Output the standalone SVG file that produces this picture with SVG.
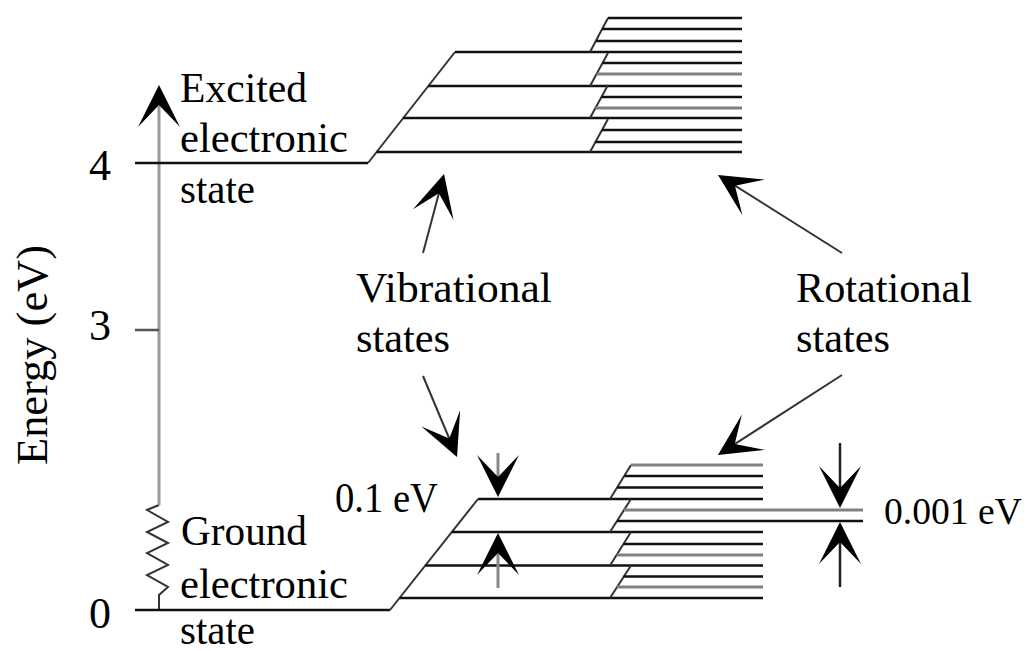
<svg xmlns="http://www.w3.org/2000/svg" width="1034" height="651" viewBox="0 0 1034 651">
  <style>
    .lvl { fill: none; stroke: #111; stroke-width: 2.5; }
    .lvl-g { fill: none; stroke: #808080; stroke-width: 3; }
    .slant { fill: none; stroke: #333; stroke-width: 2; }
    .axis { fill: none; stroke: #999; stroke-width: 3; }
    .tick { fill: none; stroke: #555; stroke-width: 2.5; }
    .ptr { fill: none; stroke: #333; stroke-width: 2; marker-end: url(#head); }
    .gap { fill: none; stroke: #888; stroke-width: 3; marker-end: url(#head); }
    .gap-d { fill: none; stroke: #222; stroke-width: 2.5; marker-end: url(#head); }
    text { font-family: "Liberation Serif", "Times New Roman", serif; font-size: 42px; fill: #000; }
    .num { text-anchor: middle; font-size: 44px; }
    .big { font-size: 44px; }
    .edge { font-size: 38px; }
  </style>
  <defs>
    <marker id="head" viewBox="-44 -23 46 46" markerWidth="46" markerHeight="46" refX="-6" refY="0" orient="auto" markerUnits="userSpaceOnUse">
      <path d="M0,0 L-42,-21 L-20,0 L-42,21 Z" fill="#000"/>
    </marker>
  </defs>

  <rect width="1034" height="651" fill="#fff"/>

  <!-- energy axis with zigzag break -->
  <g id="axis">
    <polyline class="slant" points="159,505 147,510 168,522 147,532 168,543 147,553 168,565 147,575 168,587 159,595 159,610"/>
    <line class="axis" x1="159" y1="505" x2="159" y2="91" marker-end="url(#head)"/>
    <line class="tick" x1="135" y1="330" x2="159" y2="330"/>
    <text class="num" x="100" y="180">4</text>
    <text class="num" x="100" y="340">3</text>
    <text class="num" x="100" y="628">0</text>
    <text class="big" transform="translate(47,465) rotate(-90)" textLength="220" lengthAdjust="spacingAndGlyphs">Energy (eV)</text>
  </g>

  <!-- excited electronic state: vibrational ladder with rotational sub-levels -->
  <g id="excited-state">
    <path class="lvl" d="M135,163 H368"/>
    <path class="slant" d="M368,163 L455,52"/>
    <path class="lvl" d="M376.6,152 H742 M403,118 H742 M428,86 H742 M455,52 H742"/>
    <path class="slant" d="M590,152 L608,119 M590,118 L608,85 M590,86 L608,53 M590,52 L608,18"/>
    <path class="lvl" d="M595.5,142 H742 M602,130 H742 M601.5,97 H742 M602.5,63 H742 M596,41 H742 M602.5,29 H742 M608,18 H742"/>
    <path class="lvl-g" d="M595.5,108 H742 M596.5,74 H742"/>
  </g>

  <!-- ground electronic state: vibrational ladder with rotational sub-levels -->
  <g id="ground-state">
    <path class="lvl" d="M135,610 H390"/>
    <path class="slant" d="M390,610 L478,499"/>
    <path class="lvl" d="M399.5,598 H763 M425.3,565.5 H763 M451.9,532 H763 M478,499 H763"/>
    <path class="slant" d="M610,598 L631,565.5 M610,565.5 L631,532 M610,532 L631,499 M610,499 L631,465"/>
    <path class="lvl" d="M623.5,576.5 H763 M623.7,544 H763 M617,521 H863 M617.3,487.5 H763 M624.6,476 H763"/>
    <path class="lvl-g" d="M617,587 H763 M616.7,555 H763 M624,510 H863 M631,465 H763"/>
  </g>

  <!-- labels -->
  <g id="label-excited">
    <text x="180" y="102" textLength="127" lengthAdjust="spacingAndGlyphs">Excited</text>
    <text x="180" y="152" textLength="168" lengthAdjust="spacingAndGlyphs">electronic</text>
    <text x="180" y="203" textLength="75" lengthAdjust="spacingAndGlyphs">state</text>
  </g>
  <g id="label-ground">
    <text x="181" y="545" textLength="126" lengthAdjust="spacingAndGlyphs">Ground</text>
    <text x="180" y="598" textLength="168" lengthAdjust="spacingAndGlyphs">electronic</text>
    <text x="180" y="644" textLength="75" lengthAdjust="spacingAndGlyphs">state</text>
  </g>
  <g id="label-vibrational">
    <text x="356" y="302" textLength="196" lengthAdjust="spacingAndGlyphs">Vibrational</text>
    <text x="356" y="352" textLength="94" lengthAdjust="spacingAndGlyphs">states</text>
  </g>
  <g id="label-rotational">
    <text x="796" y="302" textLength="176" lengthAdjust="spacingAndGlyphs">Rotational</text>
    <text x="796" y="352" textLength="94" lengthAdjust="spacingAndGlyphs">states</text>
  </g>
  <g id="label-vib-gap">
    <text x="335" y="512" textLength="103" lengthAdjust="spacingAndGlyphs">0.1 eV</text>
  </g>
  <g id="label-rot-gap">
    <text class="edge" x="884" y="524" textLength="138" lengthAdjust="spacingAndGlyphs">0.001 eV</text>
  </g>

  <!-- connectors: pointers and spacing arrows -->
  <g id="connectors">
    <line class="ptr" x1="423" y1="253" x2="442.5" y2="179.8"/>
    <line class="ptr" x1="423" y1="376" x2="454.7" y2="451.5"/>
    <line class="ptr" x1="842" y1="253" x2="723.1" y2="178.2"/>
    <line class="ptr" x1="842" y1="375" x2="723" y2="451.7"/>
    <line class="gap" x1="498" y1="453" x2="498" y2="491"/>
    <line class="gap" x1="498" y1="588" x2="498" y2="539"/>
    <line class="gap-d" x1="840" y1="443" x2="840" y2="502"/>
    <line class="gap-d" x1="840" y1="587" x2="840" y2="528"/>
  </g>
</svg>
